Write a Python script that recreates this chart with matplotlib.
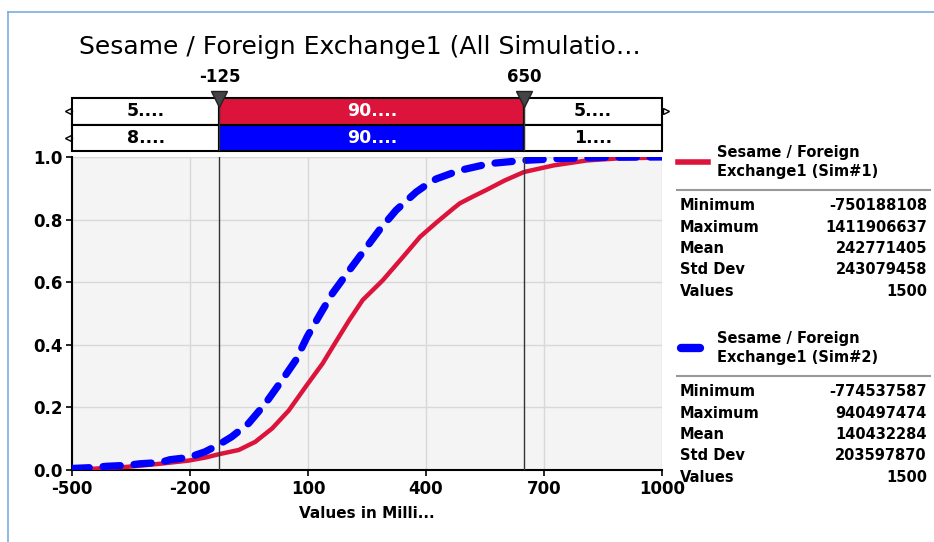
import numpy as np
import matplotlib.pyplot as plt
from matplotlib.lines import Line2D

plt.rcParams["axes.unicode_minus"] = False

# cumulative curves (values in millions)
red_x = [-500, -446, -360, -276, -204, -160, -128, -76, -34, 9, 51, 94, 137, 171, 205,
         239, 290, 341, 385, 426, 468, 486, 520, 554, 600, 649, 724, 809, 894, 1000]
red_y = [0.0, 0.004, 0.01, 0.02, 0.03, 0.04, 0.05, 0.064, 0.09, 0.133, 0.19, 0.266, 0.34,
         0.41, 0.479, 0.543, 0.606, 0.68, 0.745, 0.79, 0.834, 0.852, 0.874, 0.895, 0.925,
         0.952, 0.973, 0.989, 0.996, 0.998]
blue_x = [-500, -446, -411, -360, -327, -276, -251, -204, -162, -128, -94, -51, -8, 34, 69,
          98, 132, 162, 205, 243, 281, 324, 375, 409, 426, 485, 562, 647, 741, 852, 1000]
blue_y = [0.005, 0.008, 0.012, 0.015, 0.02, 0.024, 0.033, 0.04, 0.058, 0.08, 0.106, 0.149,
          0.213, 0.287, 0.351, 0.426, 0.5, 0.564, 0.638, 0.702, 0.766, 0.83, 0.888, 0.918,
          0.93, 0.957, 0.979, 0.989, 0.995, 0.999, 1.0]

x_ticks = [-500, -200, 100, 400, 700, 1000]
y_ticks = [0.0, 0.2, 0.4, 0.6, 0.8, 1.0]

# delimiters and band labels
cut_lo, cut_hi = -125, 650
band_edges = [-500, cut_lo, cut_hi, 1000]
band_sim1 = ["5....", "90....", "5...."]
band_sim2 = ["8....", "90....", "1...."]

stat_names = ["Minimum", "Maximum", "Mean", "Std Dev", "Values"]
sim1_stats = ["-750188108", "1411906637", "242771405", "243079458", "1500"]
sim2_stats = ["-774537587", "940497474", "140432284", "203597870", "1500"]
sim1_name = "Sesame / Foreign\nExchange1 (Sim#1)"
sim2_name = "Sesame / Foreign\nExchange1 (Sim#2)"

RED = "#DC143C"
BLUE = "#0000FF"
W, H = 934, 542

fig = plt.figure(figsize=(W / 100, H / 100), dpi=100)
fig.patch.set_facecolor("white")


def fx(px):
    return px / W


def fy(py):
    return 1 - py / H


# light blue frame
fig.add_artist(Line2D([fx(8), fx(8)], [fy(12), 0], color="#7aaee0", lw=1.2))
fig.add_artist(Line2D([fx(8), 1], [fy(12), fy(12)], color="#7aaee0", lw=1.2))

fig.text(fx(79), fy(47), "Sesame / Foreign Exchange1 (All Simulatio\u2026",
         fontsize=18, family="DejaVu Sans", va="center", ha="left")

# main plot
ax = fig.add_axes([fx(72), fy(470), fx(590), 313 / H])
ax.set_facecolor("#F4F4F4")
ax.plot(red_x, red_y, color=RED, lw=3.2, solid_capstyle="round", zorder=3)
ax.plot(blue_x, blue_y, color=BLUE, lw=5.2, dashes=(2.4, 1.9),
        dash_capstyle="round", zorder=4)
ax.axvline(cut_lo, color="#333333", lw=1, zorder=5)
ax.axvline(cut_hi, color="#333333", lw=1, zorder=5)
ax.set_xlim(-500, 1000)
ax.set_ylim(0, 1)
ax.set_xticks(x_ticks)
ax.set_yticks(y_ticks)
ax.set_yticklabels([f"{v:.1f}" for v in y_ticks])
ax.grid(True, color="#d8d8d8", lw=1)
ax.set_axisbelow(True)
for s in ["top", "right"]:
    ax.spines[s].set_visible(False)
for s in ["left", "bottom"]:
    ax.spines[s].set_color("black")
    ax.spines[s].set_linewidth(1.5)
ax.tick_params(length=4, width=1.2, labelsize=12, pad=3)
for lab in ax.get_xticklabels() + ax.get_yticklabels():
    lab.set_fontweight("bold")
ax.set_xlabel("Values in Milli...", fontsize=11, fontweight="bold", labelpad=6)

# delimiter band above the plot
band = fig.add_axes([fx(72), fy(151), fx(590), 53 / H])
band.set_xlim(-500, 1000)
band.set_ylim(0, 2)
band.axis("off")
lefts = band_edges[:-1]
widths = np.diff(band_edges)
rows = [(1, band_sim1, ["white", RED, "white"]), (0, band_sim2, ["white", BLUE, "white"])]
for y0, labels, cols in rows:
    band.barh([y0 + 0.5] * 3, widths, left=lefts, height=1, color=cols,
              edgecolor="black", linewidth=1.5, clip_on=False)
    for lft, wd, lab, c in zip(lefts, widths, labels, cols):
        band.text(lft + wd / 2, y0 + 0.5, lab, ha="center", va="center",
                  fontsize=12.5, fontweight="bold",
                  color="white" if c != "white" else "black")
# little end arrows
for yy in [1.5, 0.5]:
    band.plot([-513, -500], [yy, yy], color="black", lw=1, clip_on=False)
    band.plot([-511], [yy], marker="<", ms=5, mfc="white", mec="black", mew=1,
              clip_on=False)
band.plot([1000, 1011], [1.5, 1.5], color="black", lw=1, clip_on=False)
band.plot([1009], [1.5], marker=">", ms=5, mfc="white", mec="black", mew=1,
          clip_on=False)
for c in [cut_lo, cut_hi]:
    band.plot([c, c], [0, 2], color="#333333", lw=1, zorder=5)
    band.plot([c], [1.95], marker="v", ms=12, color="#444444", mec="#222222",
              clip_on=False, zorder=6)
    band.text(c, 2.8, str(c), ha="center", va="center", fontsize=12,
              fontweight="bold", clip_on=False)

# legend / statistics panel
def stats_block(top, color, name, values, dashed):
    if dashed:
        fig.add_artist(Line2D([fx(681), fx(700)], [fy(top + 10), fy(top + 10)],
                              color=color, lw=6, solid_capstyle="round"))
    else:
        fig.add_artist(Line2D([fx(678), fx(708)], [fy(top + 10), fy(top + 10)],
                              color=color, lw=4))
    fig.text(fx(717), fy(top + 10), name, fontsize=10.5, fontweight="bold",
             va="center", ha="left", linespacing=1.3)
    fig.add_artist(Line2D([fx(677), fx(930)], [fy(top + 38), fy(top + 38)],
                          color="#999999", lw=1.5))
    for i, (n, v) in enumerate(zip(stat_names, values)):
        yy = fy(top + 54 + i * 21.3)
        fig.text(fx(680), yy, n, fontsize=10.5, fontweight="bold", va="center")
        fig.text(fx(927), yy, v, fontsize=10.5, fontweight="bold", va="center",
                 ha="right")


stats_block(152, RED, sim1_name, sim1_stats, False)
stats_block(338, BLUE, sim2_name, sim2_stats, True)

fig.savefig("out.png", dpi=100)
